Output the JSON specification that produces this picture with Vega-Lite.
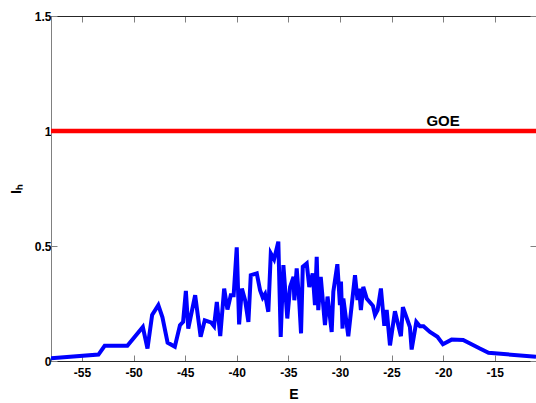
{
  "$schema": "https://vega.github.io/schema/vega-lite/v6.json",
  "width": 485,
  "height": 345,
  "autosize": "none",
  "padding": {"left": 51, "top": 16, "right": 0, "bottom": 42},
  "config": {
    "view": {"stroke": "#262626", "strokeWidth": 1},
    "font": "Liberation Sans",
    "axis": {"grid": false, "labelFontWeight": "bold", "labelFontSize": 12, "labelColor": "#000000", "titleFontWeight": "bold", "titleColor": "#000000", "tickColor": "#808080", "tickSize": -6}
  },
  "datasets": {
    "blue": [
      {"E": -58.0, "I": 0.012}, {"E": -53.4, "I": 0.028}, {"E": -52.8, "I": 0.066}, {"E": -50.6, "I": 0.066},
      {"E": -49.1, "I": 0.148}, {"E": -48.65, "I": 0.054}, {"E": -48.2, "I": 0.2}, {"E": -47.6, "I": 0.243},
      {"E": -47.2, "I": 0.19}, {"E": -46.7, "I": 0.08}, {"E": -46.0, "I": 0.062}, {"E": -45.5, "I": 0.156},
      {"E": -45.2, "I": 0.17}, {"E": -44.93, "I": 0.305}, {"E": -44.7, "I": 0.141}, {"E": -44.03, "I": 0.286},
      {"E": -43.5, "I": 0.105}, {"E": -43.1, "I": 0.177}, {"E": -42.5, "I": 0.168}, {"E": -42.2, "I": 0.151},
      {"E": -41.93, "I": 0.257}, {"E": -41.6, "I": 0.108}, {"E": -41.22, "I": 0.315}, {"E": -40.9, "I": 0.224},
      {"E": -40.58, "I": 0.286}, {"E": -40.3, "I": 0.286}, {"E": -40.0, "I": 0.494}, {"E": -39.77, "I": 0.159},
      {"E": -39.5, "I": 0.315}, {"E": -39.19, "I": 0.264}, {"E": -38.87, "I": 0.17}, {"E": -38.64, "I": 0.373},
      {"E": -38.06, "I": 0.381}, {"E": -37.74, "I": 0.308}, {"E": -37.48, "I": 0.276}, {"E": -37.26, "I": 0.291},
      {"E": -36.94, "I": 0.214}, {"E": -36.7, "I": 0.468}, {"E": -36.38, "I": 0.442}, {"E": -35.97, "I": 0.519},
      {"E": -35.74, "I": 0.105}, {"E": -35.48, "I": 0.417}, {"E": -35.1, "I": 0.185}, {"E": -34.83, "I": 0.322},
      {"E": -34.5, "I": 0.366}, {"E": -34.42, "I": 0.264}, {"E": -34.19, "I": 0.403}, {"E": -33.95, "I": 0.264},
      {"E": -33.77, "I": 0.12}, {"E": -33.6, "I": 0.41}, {"E": -33.22, "I": 0.424}, {"E": -32.97, "I": 0.322},
      {"E": -32.64, "I": 0.381}, {"E": -32.42, "I": 0.243}, {"E": -32.25, "I": 0.453}, {"E": -32.1, "I": 0.221},
      {"E": -31.86, "I": 0.366}, {"E": -31.45, "I": 0.156}, {"E": -31.2, "I": 0.28}, {"E": -30.8, "I": 0.126},
      {"E": -30.64, "I": 0.301}, {"E": -30.25, "I": 0.421}, {"E": -30.0, "I": 0.243}, {"E": -29.9, "I": 0.345},
      {"E": -29.75, "I": 0.141}, {"E": -29.67, "I": 0.272}, {"E": -29.19, "I": 0.108}, {"E": -28.54, "I": 0.373},
      {"E": -28.3, "I": 0.265}, {"E": -28.15, "I": 0.315}, {"E": -27.97, "I": 0.221}, {"E": -27.74, "I": 0.322},
      {"E": -27.41, "I": 0.272}, {"E": -26.8, "I": 0.24}, {"E": -26.6, "I": 0.2}, {"E": -26.35, "I": 0.221},
      {"E": -26.03, "I": 0.315}, {"E": -25.7, "I": 0.153}, {"E": -25.47, "I": 0.222}, {"E": -25.15, "I": 0.068},
      {"E": -24.67, "I": 0.216}, {"E": -24.09, "I": 0.108}, {"E": -23.9, "I": 0.234}, {"E": -23.22, "I": 0.148},
      {"E": -23.05, "I": 0.05}, {"E": -22.6, "I": 0.17}, {"E": -22.25, "I": 0.151}, {"E": -21.9, "I": 0.151},
      {"E": -21.28, "I": 0.126}, {"E": -20.55, "I": 0.105}, {"E": -20.02, "I": 0.073}, {"E": -19.18, "I": 0.093},
      {"E": -18.06, "I": 0.091}, {"E": -16.44, "I": 0.054}, {"E": -15.6, "I": 0.036}, {"E": -11.0, "I": 0.018}
    ],
    "goe": [{"E": -58, "I": 1}, {"E": -11, "I": 1}],
    "label": [{"E": -20.0, "I": 1.044, "t": "GOE"}]
  },
  "resolve": {"axis": {"x": "independent", "y": "independent"}},
  "layer": [
    {
      "data": {"name": "blue"},
      "mark": {"type": "line", "color": "#0000ff", "strokeWidth": 4, "clip": true},
      "encoding": {
        "x": {"field": "E", "type": "quantitative", "scale": {"domain": [-58, -11], "nice": false, "zero": false},
          "axis": {"orient": "bottom", "values": [-55, -50, -45, -40, -35, -30, -25, -20, -15], "labelExpr": "'' + datum.value", "domainColor": "#262626", "labelPadding": 12, "title": "E", "titleFontSize": 14, "titlePadding": 9}},
        "y": {"field": "I", "type": "quantitative", "scale": {"domain": [0, 1.5], "nice": false},
          "axis": {"orient": "left", "values": [0, 0.5, 1, 1.5], "labelExpr": "'' + datum.value", "domainColor": "#808080", "labelPadding": 6, "title": "Iₕ", "titleFontSize": 14, "titlePadding": 11}}
      }
    },
    {
      "data": {"name": "goe"},
      "mark": {"type": "line", "color": "#ff0000", "strokeWidth": 4.5},
      "encoding": {
        "x": {"field": "E", "type": "quantitative", "axis": {"orient": "top", "values": [-55, -50, -45, -40, -35, -30, -25, -20, -15], "labels": false, "title": null, "domainColor": "#262626"}},
        "y": {"field": "I", "type": "quantitative", "axis": {"orient": "right", "values": [0, 0.5, 1, 1.5], "labels": false, "title": null, "domainColor": "#262626"}}
      }
    },
    {
      "data": {"name": "label"},
      "mark": {"type": "text", "fontWeight": "bold", "fontSize": 15, "color": "#000000", "baseline": "middle", "align": "center"},
      "encoding": {
        "x": {"field": "E", "type": "quantitative", "axis": null},
        "y": {"field": "I", "type": "quantitative", "axis": null},
        "text": {"field": "t"}
      }
    }
  ]
}
